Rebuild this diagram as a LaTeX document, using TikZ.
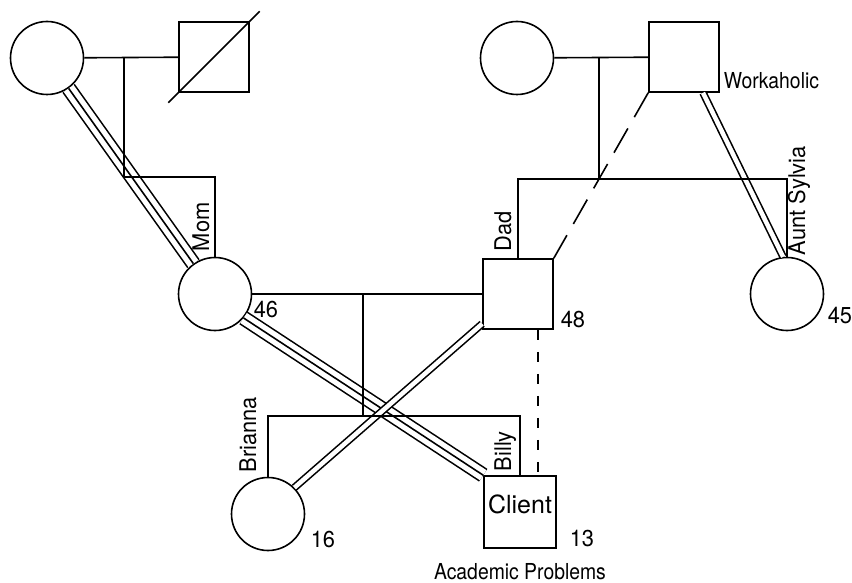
\documentclass[tikz,border=0pt]{standalone}
\usepackage{fontspec}
\setmainfont{TeX Gyre Heros}
\newfontfamily\lblfont[FakeStretch=0.95]{TeX Gyre Heros}
\newfontfamily\narrowfont[FakeStretch=0.88]{TeX Gyre Heros}
\usetikzlibrary{positioning}

\begin{document}
\begin{tikzpicture}[x=1pt,y=-1pt,line width=1.6pt,
  female/.style={draw,circle,minimum size=73pt,inner sep=0pt},
  male/.style={draw,rectangle,minimum size=70pt,inner sep=0pt},
  lbl/.style={inner sep=0pt,anchor=base west,font=\lblfont\fontsize{23}{26}\selectfont},
  vlbl/.style={lbl,rotate=90},
  note/.style={inner sep=0pt,font=\narrowfont\fontsize{22}{25}\selectfont},
  dbl/.style={double,double distance=4.5pt},
  trip/.style={double,double distance=12pt},
  cutoff/.style={dash pattern=on 28pt off 13pt},
  distant/.style={dash pattern=on 10pt off 12pt}]
\useasboundingbox (0,0) rectangle (852,583);
% grandparents
\node[female] (mgm) at (47,58) {};
\node[male] (mgf) at (214,57) {};
\node[female] (pgm) at (517,58) {};
\node[male] (pgf) at (684,57) {};
% parents and aunt
\node[female] (mom) at (215,294) {};
\node[male] (dad) at (518,294) {};
\node[female] (aunt) at (787,294) {};
% children
\node[female] (brianna) at (268,514) {};
\node[male,minimum size=72pt] (client) at (520,512) {};
\coordinate (mj) at (124,177);
\coordinate (pj) at (599,179);
\coordinate (cj) at (363,416);
% relationships
\draw[trip] (mgm) -- (mom);
\draw (mgm) -- (mom);
\draw[trip] (mom.-40) -- (client.north west);
\draw (mom.-40) -- (client.north west);
\draw[dbl] ([yshift=6pt]dad.south west) -- (brianna.45);
\draw[dbl] ([xshift=19pt]pgf.south) -- (aunt.96);
\draw[cutoff] (pgf.south west) -- (dad.north east);
\draw[distant] ([xshift=20pt]dad.south) -- ([xshift=20pt]dad.south |- client.north);
% family lines
\draw (mgm) -- (mgf);
\draw (mom.north) |- (mj) -- (mj |- mgm.east);
\draw[shorten <=-14pt,shorten >=-14pt] (mgf.south west) -- (mgf.north east);
\draw (pgm) -- (pgf);
\draw (dad.north) |- (aunt.north |- pj) -- (aunt.north);
\draw (pj) -- (pj |- pgm.east);
\draw (mom) -- (dad);
\draw (brianna.north) |- (client.north |- cj) -- (client.north);
\draw (cj) -- (cj |- mom.east);
% labels
\node[vlbl] (momlbl) at (209,252) {Mom};
\node[vlbl] (dadlbl) at (511,252) {Dad};
\node[vlbl] (sylvia) at (805,256) {Aunt Sylvia};
\node[vlbl] (brilbl) at (256,473) {Brianna};
\node[vlbl] (billy) at (511,472) {Billy};
\node[lbl] (age46) at (253,317) {46};
\node[lbl] (age48) at (560,327) {48};
\node[lbl] (age45) at (827,323) {45};
\node[lbl] (age16) at (310,547) {16};
\node[lbl] (age13) at (569,546) {13};
\node[note,anchor=base west] (work) at (723,89) {Workaholic};
\node[anchor=base,inner sep=0pt,font=\fontsize{25}{28}\selectfont] (clitxt) at (520,513) {Client};
\node[note,below=14pt of client] (acad) {Academic Problems};
\end{tikzpicture}
\end{document}
